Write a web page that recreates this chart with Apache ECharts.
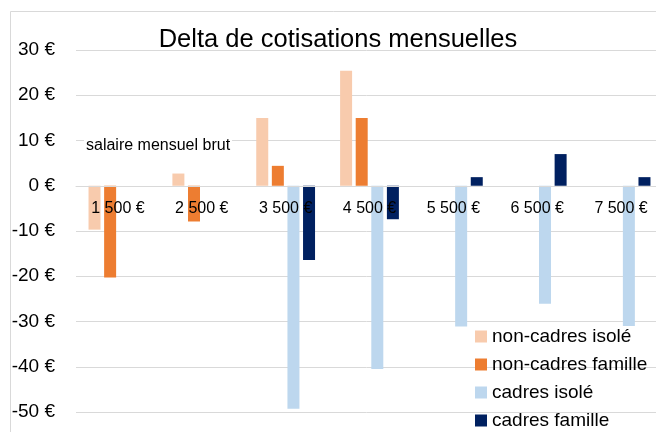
<!DOCTYPE html>
<html>
<head>
<meta charset="utf-8">
<script src="https://cdn.jsdelivr.net/npm/echarts@6/dist/echarts.min.js"></script>
<style>
  html, body { margin: 0; padding: 0; background: #fff; }
  #chart { width: 656px; height: 432px; }
</style>
</head>
<body>
<div id="chart"></div>
<script>
// salaires mensuels bruts
const categories = ['1 500 €', '2 500 €', '3 500 €', '4 500 €', '5 500 €', '6 500 €', '7 500 €'];
// delta de cotisations (€ / mois)
const nonCadresIsole = [-9.7, 2.7, 15.0, 25.4, 0, 0, 0];
const nonCadresFamille = [-20.3, -7.9, 4.4, 15.0, 0, 0, 0];
const cadresIsole = [0, 0, -49.3, -40.5, -31.1, -26.1, -31.0];
const cadresFamille = [0, 0, -16.4, -7.4, 1.9, 7.0, 1.9];

const font = 'Liberation Sans';
const chart = echarts.init(document.getElementById('chart'));

function barSerie(name, data, color) {
  return {
    name: name,
    type: 'bar',
    barWidth: 12,
    barGap: '30%',
    itemStyle: { color: color },
    data: data
  };
}

chart.setOption({
  animation: false,
  backgroundColor: '#fff',
  textStyle: { fontFamily: font },
  title: {
    text: 'Delta de cotisations mensuelles',
    left: 333,
    textAlign: 'center',
    top: 22,
    textStyle: { fontFamily: font, fontSize: 25.5, fontWeight: 'normal', color: '#000' }
  },
  graphic: [
    {
      type: 'rect',
      z: -10,
      shape: { x: 10.5, y: 11.5, width: 700, height: 500 },
      style: { fill: 'none', stroke: '#d9d9d9', lineWidth: 1 }
    },
    {
      type: 'text',
      left: 84,
      top: 136,
      z: 100,
      style: {
        text: 'salaire mensuel brut',
        font: '16px "Liberation Sans"',
        fill: '#000',
        backgroundColor: '#fff',
        padding: [2, 2, 2, 2]
      }
    }
  ],
  legend: {
    orient: 'vertical',
    left: 470,
    top: 322,
    height: 200,
    itemWidth: 12,
    itemHeight: 12,
    itemGap: 9,
    icon: 'rect',
    textStyle: { fontFamily: font, fontSize: 19, color: '#000', lineHeight: 19 },
    data: ['non-cadres isolé', 'non-cadres famille', 'cadres isolé', 'cadres famille']
  },
  grid: { left: 76, right: -7, top: 50, bottom: 20, outerBoundsMode: 'none' },
  xAxis: {
    type: 'category',
    data: categories,
    z: 10,
    offset: -226,
    axisLine: { onZero: false, lineStyle: { color: '#d9d9d9' } },
    axisTick: { show: false },
    axisLabel: { fontFamily: font, fontSize: 16, color: '#000', margin: 15 },
    splitLine: { show: false }
  },
  yAxis: {
    type: 'value',
    min: -50,
    max: 30,
    interval: 10,
    axisLine: { show: false },
    axisTick: { show: false },
    axisLabel: { fontFamily: font, fontSize: 19, color: '#000', margin: 21, formatter: '{value} €' },
    splitLine: { lineStyle: { color: '#d9d9d9' } }
  },
  series: [
    barSerie('non-cadres isolé', nonCadresIsole, '#F8CBAD'),
    barSerie('non-cadres famille', nonCadresFamille, '#ED7D31'),
    barSerie('cadres isolé', cadresIsole, '#BDD7EE'),
    barSerie('cadres famille', cadresFamille, '#002060')
  ]
});
</script>
</body>
</html>
